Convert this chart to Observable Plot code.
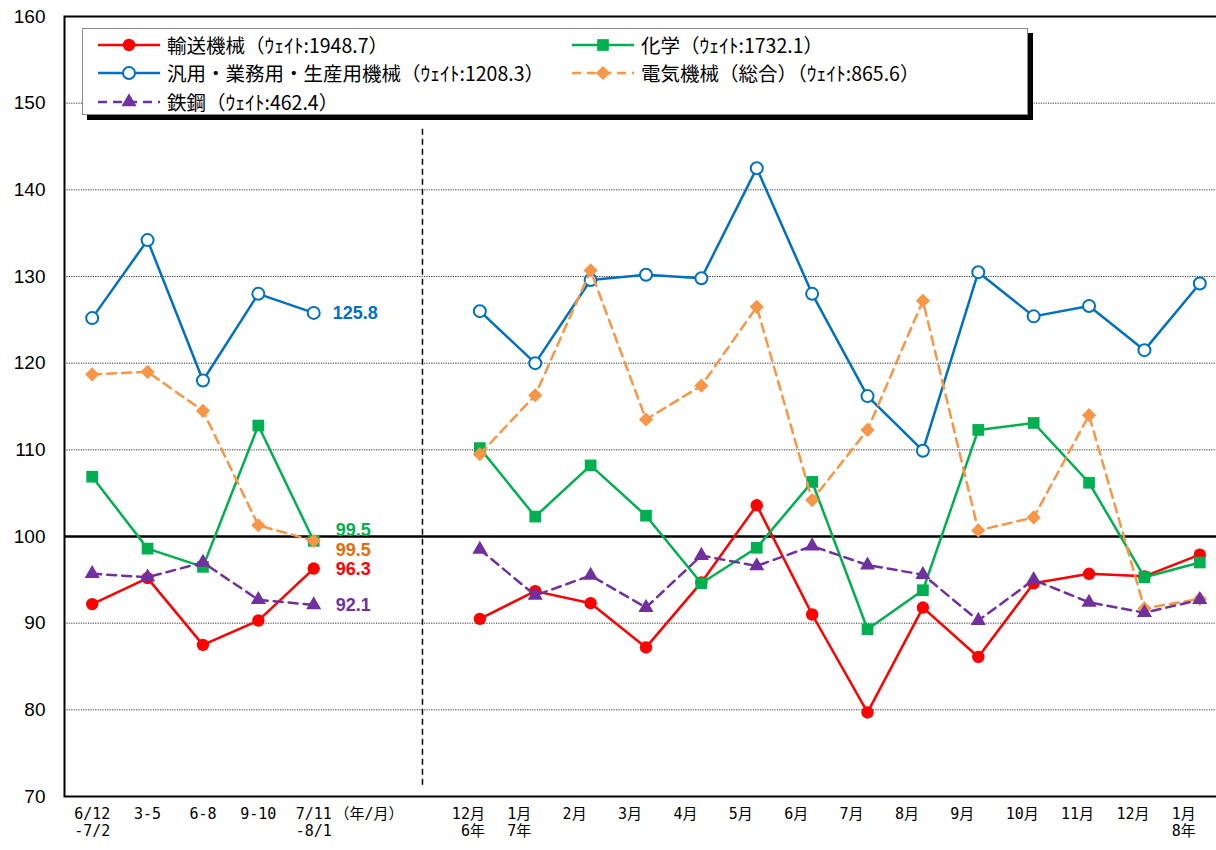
<!DOCTYPE html>
<html><head><meta charset="utf-8">
<script src="https://cdn.jsdelivr.net/npm/d3@7"></script>
<script src="https://cdn.jsdelivr.net/npm/@observablehq/plot@0.6"></script>
<style>
html,body{margin:0;padding:0;background:#fff;overflow:hidden;width:1216px;height:850px}
#wrap{position:relative;width:1216px;height:850px;overflow:hidden}
#legend{position:absolute;left:82px;top:28px;width:944px;height:85px;background:#fff;border:1px solid #888;box-shadow:5px 5px 0 #000;font-family:"Noto Sans CJK JP";font-size:19.5px;color:#000}
.item{position:absolute;display:flex;align-items:center;height:26px;white-space:nowrap;line-height:26px}
.item svg{margin-right:7px;flex:none}
</style></head>
<body><div id="wrap"><div id="chart"></div><div id="legend"></div></div>
<script>
// ---- data ----
const weeklyLabels = ["6/12\n-7/2", "3-5", "6-8", "9-10", "7/11\n-8/1"];
const unitLabel = "（年/月）";
const monthLabels = ["12月\n 6年", "1月\n7年", "2月", "3月", "4月", "5月", "6月", "7月", "8月", "9月", "10月", "11月", "12月", "1月\n8年"];
const yTicks = [70, 80, 90, 100, 110, 120, 130, 140, 150, 160];
const gridTicks = [80, 90, 110, 120, 130, 140, 150];

const seriesNames = ["輸送機械", "化学", "汎用・業務用・生産用機械", "電気機械（総合）", "鉄鋼"];
const seriesWeights = ["1948.7", "1732.1", "1208.3", "865.6", "462.4"];

const transportWeekly = [92.2, 95.2, 87.5, 90.3, 96.3];
const chemWeekly      = [106.9, 98.6, 96.5, 112.8, 99.5];
const generalWeekly   = [125.2, 134.2, 118.0, 128.0, 125.8];
const electricWeekly  = [118.7, 119.0, 114.5, 101.3, 99.5];
const steelWeekly     = [95.7, 95.3, 97.0, 92.7, 92.1];

const transportMonthly = [90.5, 93.7, 92.3, 87.2, 94.7, 103.6, 91.0, 79.7, 91.8, 86.1, 94.6, 95.7, 95.4, 97.9];
const chemMonthly      = [110.2, 102.3, 108.2, 102.4, 94.6, 98.7, 106.3, 89.3, 93.8, 112.3, 113.1, 106.2, 95.3, 97.0];
const generalMonthly   = [126.0, 120.0, 129.6, 130.2, 129.8, 142.5, 128.0, 116.2, 109.9, 130.5, 125.4, 126.6, 121.5, 129.2];
const electricMonthly  = [109.5, 116.3, 130.7, 113.5, 117.4, 126.5, 104.2, 112.3, 127.2, 100.7, 102.2, 114.0, 91.7, 92.8];
const steelMonthly     = [98.5, 93.2, 95.5, 91.8, 97.8, 96.6, 98.9, 96.7, 95.6, 90.3, 95.0, 92.4, 91.2, 92.7];

// ---- layout of category slots ----
const unitSlot = weeklyLabels.length;        // 5
const dividerSlot = unitSlot + 1;            // 6
const monthStart = dividerSlot + 1;          // 7
const nSlots = monthStart + monthLabels.length; // 21

// ---- styles ----
const styles = [
  {color: "#FF0000", symbol: "circle",   fill: "#FF0000", r: 6.2, dash: null,  labelDx: 22, labelDy: 1},
  {color: "#00B050", symbol: "square",   fill: "#00B050", r: 6.6, dash: null,  labelDx: 22, labelDy: -11},
  {color: "#0070C0", symbol: "circle",   fill: "#FFFFFF", r: 6.0, dash: null,  labelDx: 19, labelDy: 0},
  {color: "#F79646", symbol: "diamond2", fill: "#F79646", r: 6.4, dash: "9,6", labelDx: 22, labelDy: 9},
  {color: "#7030A0", symbol: "triangle", fill: "#7030A0", r: 5.6, dash: "9,6", labelDx: 22, labelDy: 0}
];

const weeklyAll = [transportWeekly, chemWeekly, generalWeekly, electricWeekly, steelWeekly];
const monthlyAll = [transportMonthly, chemMonthly, generalMonthly, electricMonthly, steelMonthly];

const rows = [];
seriesNames.forEach((name, s) => {
  weeklyAll[s].forEach((v, i) => rows.push({s, name, seg: "w", slot: i, value: v}));
  monthlyAll[s].forEach((v, i) => rows.push({s, name, seg: "m", slot: monthStart + i, value: v}));
});

const xLabelRows = [
  ...weeklyLabels.map((t, i) => ({slot: i, text: t, kind: "w"})),
  {slot: unitSlot, text: unitLabel, kind: "w"},
  ...monthLabels.map((t, i) => ({slot: monthStart + i, text: t, kind: "m"}))
];

const endLabels = seriesNames.map((name, s) => ({s, slot: weeklyLabels.length - 1, value: weeklyAll[s][weeklyAll[s].length - 1]}));

const tickFont = "'DejaVu Sans Mono', 'Noto Sans CJK JP', monospace";

const marks = [
  Plot.ruleY(gridTicks, {stroke: "#333", strokeWidth: 1, strokeDasharray: "1.2,1.2"}),
  Plot.ruleY([100], {stroke: "#000", strokeWidth: 2.5}),
  Plot.ruleX([dividerSlot], {y1: 147, y2: 71.3, stroke: "#000", strokeWidth: 1.5, strokeDasharray: "6,4", dx: -2})
];
styles.forEach((st, s) => {
  const data = rows.filter(d => d.s === s);
  marks.push(Plot.line(data, {x: "slot", y: "value", z: "seg", stroke: st.color, strokeWidth: 2.5,
    strokeDasharray: st.dash ?? undefined, curve: "linear"}));
  marks.push(Plot.dot(data, {x: "slot", y: "value", symbol: () => st.symbol, r: st.r, fill: st.fill,
    stroke: st.color, strokeWidth: st.fill === "#FFFFFF" ? 2 : 0}));
});
styles.forEach((st, s) => {
  marks.push(Plot.text(endLabels.filter(d => d.s === s), {x: "slot", y: "value", text: d => d.value.toFixed(1),
    dx: st.labelDx, dy: st.labelDy, textAnchor: "start", fill: st.color === "#F79646" ? "#E46C0A" : st.color,
    fontSize: 18, fontWeight: "bold", fontFamily: "Liberation Sans"}));
});
marks.push(
  Plot.frame({stroke: "#000", strokeWidth: 2}),
  Plot.axisY(yTicks, {tickSize: 0, tickPadding: 19, fontSize: 19, fontFamily: "Liberation Sans", label: null}),
  Plot.text(xLabelRows.filter(d => d.kind === "w"), {x: "slot", text: "text", frameAnchor: "bottom",
    lineAnchor: "top", dy: 11, textAnchor: "middle", fontSize: 15, lineHeight: 1.1, fill: "#000", fontFamily: tickFont}),
  Plot.text(xLabelRows.filter(d => d.kind === "m"), {x: "slot", text: "text", frameAnchor: "bottom",
    lineAnchor: "top", dy: 11, dx: -28, textAnchor: "start", fontSize: 15, lineHeight: 1.1, fill: "#000", fontFamily: tickFont})
);

const chart = Plot.plot({
  width: 1227, height: 850,
  marginLeft: 64, marginRight: 0, marginTop: 16, marginBottom: 54,
  x: {type: "linear", domain: [-0.5, nSlots - 0.5], axis: null},
  y: {domain: [70, 160], axis: null},
  style: {fontFamily: "Noto Sans CJK JP", background: "#fff", color: "#000", maxWidth: "none", overflow: "visible"},
  marks
});
document.getElementById("chart").append(chart);

// ---- legend ----
function symbolSvg(st) {
  const dash = st.dash ? `stroke-dasharray="${st.dash}"` : "";
  const sym = d3.symbol(
    {circle: d3.symbolCircle, square: d3.symbolSquare, diamond2: d3.symbolDiamond2, triangle: d3.symbolTriangle}[st.symbol],
    Math.PI * st.r * st.r)();
  return `<svg width="62" height="20"><line x1="0" x2="62" y1="10" y2="10" stroke="${st.color}" stroke-width="2.5" ${dash}/>`
    + `<path transform="translate(31,10)" d="${sym}" fill="${st.fill}" stroke="${st.color}" stroke-width="${st.fill === "#FFFFFF" ? 2 : 0}"/></svg>`;
}
const legendPos = [[15, 3], [489, 3], [15, 31], [489, 31], [15, 60]];
const legend = document.getElementById("legend");
seriesNames.forEach((name, s) => {
  const div = document.createElement("div");
  div.className = "item";
  div.style.left = legendPos[s][0] + "px";
  div.style.top = legendPos[s][1] + "px";
  div.innerHTML = symbolSvg(styles[s]) + `<span>${name}（ｳｪｲﾄ:${seriesWeights[s]}）</span>`;
  legend.append(div);
});
</script>
</body></html>
